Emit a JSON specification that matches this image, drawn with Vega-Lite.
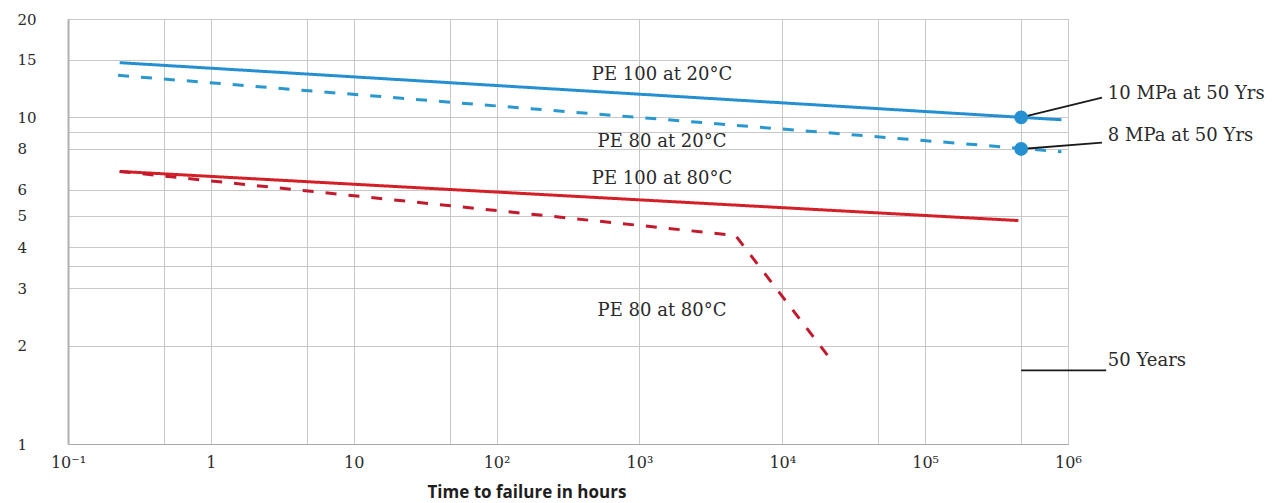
{
  "$schema": "https://vega.github.io/schema/vega-lite/v6.json",
  "width": 1000,
  "height": 425,
  "autosize": "none",
  "padding": {"left": 68, "top": 19, "right": 212, "bottom": 59},
  "background": "white",
  "config": {
    "view": {"stroke": "#a8a8a8", "strokeWidth": 1},
    "axis": {"gridColor": "#c8c8c8", "gridWidth": 1, "gridOpacity": 1, "ticks": false, "tickSize": 0, "labelColor": "#2a2a2a", "labelFont": "DejaVu Serif", "labelOverlap": false, "labelFlush": false}
  },
  "datasets": {
    "curves": [
      {"series": "PE 100 at 20°C", "hours": 0.23, "stress": 14.7},
      {"series": "PE 100 at 20°C", "hours": 900000, "stress": 9.83},
      {"series": "PE 80 at 20°C", "hours": 0.224, "stress": 13.45},
      {"series": "PE 80 at 20°C", "hours": 900000, "stress": 7.85},
      {"series": "PE 100 at 80°C", "hours": 0.23, "stress": 6.83},
      {"series": "PE 100 at 80°C", "hours": 450000, "stress": 4.83},
      {"series": "PE 80 at 80°C", "hours": 0.23, "stress": 6.83},
      {"series": "PE 80 at 80°C", "hours": 4700, "stress": 4.35},
      {"series": "PE 80 at 80°C", "hours": 22600, "stress": 1.78}
    ],
    "dots": [
      {"hours": 470000, "stress": 10},
      {"hours": 470000, "stress": 8}
    ],
    "leaders": [
      {"hours": 470000, "stress": 10, "hours2": 1730000, "stress2": 11.5},
      {"hours": 470000, "stress": 8, "hours2": 1730000, "stress2": 8.37},
      {"hours": 470000, "stress": 1.68, "hours2": 1850000, "stress2": 1.68}
    ],
    "curveLabels": [
      {"label": "PE 100 at 20°C", "hours": 1440, "stress": 13.5},
      {"label": "PE 80 at 20°C", "hours": 1440, "stress": 8.43},
      {"label": "PE 100 at 80°C", "hours": 1440, "stress": 6.49},
      {"label": "PE 80 at 80°C", "hours": 1440, "stress": 2.55}
    ],
    "notes": [
      {"label": "10 MPa at 50 Yrs", "hours": 1900000, "stress": 11.8},
      {"label": "8 MPa at 50 Yrs", "hours": 1900000, "stress": 8.77},
      {"label": "50 Years", "hours": 1900000, "stress": 1.79}
    ]
  },
  "layer": [
    {
      "data": {"name": "curves"},
      "mark": {"type": "line", "strokeWidth": 3},
      "encoding": {
        "x": {
          "field": "hours", "type": "quantitative",
          "scale": {"type": "log", "domain": [0.1, 1000000], "nice": false},
          "axis": {
            "title": "Time to failure in hours",
            "values": [0.1, 0.47, 1, 4.7, 10, 47, 100, 1000, 10000, 47000, 100000, 470000, 1000000],
            "labelExpr": "datum.value == 0.1 ? '10⁻¹' : datum.value == 1 ? '1' : datum.value == 10 ? '10' : datum.value == 100 ? '10²' : datum.value == 1000 ? '10³' : datum.value == 10000 ? '10⁴' : datum.value == 100000 ? '10⁵' : datum.value == 1000000 ? '10⁶' : ''",
            "labelFontSize": 16,
            "labelPadding": 10,
            "domain": true, "domainColor": "#a8a8a8",
            "titleFont": "Open Sans", "titleFontWeight": "bold", "titleFontSize": 17, "titleColor": "#1e1e1e",
            "titleX": 359, "titleY": 48, "titleAlign": "left", "titleBaseline": "middle", "titleAnchor": null
          }
        },
        "y": {
          "field": "stress", "type": "quantitative",
          "scale": {"type": "log", "domain": [1, 20], "nice": false},
          "axis": {
            "title": null,
            "values": [1, 2, 3, 3.5, 4, 5, 6, 8, 9, 10, 15, 20],
            "labelExpr": "datum.value == 3.5 || datum.value == 9 ? '' : datum.label",
            "labelAlign": "left",
            "labelPadding": 51,
            "labelFontSize": 15,
            "domain": true, "domainColor": "#b0b0b0", "domainWidth": 2
          }
        },
        "color": {
          "field": "series", "type": "nominal", "legend": null,
          "scale": {"domain": ["PE 100 at 20°C", "PE 80 at 20°C", "PE 100 at 80°C", "PE 80 at 80°C"], "range": ["#2490d2", "#2a98cf", "#d41f26", "#c21a2c"]}
        },
        "strokeDash": {
          "field": "series", "type": "nominal", "legend": null,
          "scale": {"domain": ["PE 100 at 20°C", "PE 80 at 20°C", "PE 100 at 80°C", "PE 80 at 80°C"], "range": [[1, 0], [11, 12], [1, 0], [11, 12]]}
        }
      }
    },
    {
      "data": {"name": "leaders"},
      "mark": {"type": "rule", "color": "#1a1a1a", "strokeWidth": 1.8},
      "encoding": {
        "x": {"field": "hours", "type": "quantitative"},
        "y": {"field": "stress", "type": "quantitative"},
        "x2": {"field": "hours2"},
        "y2": {"field": "stress2"}
      }
    },
    {
      "data": {"name": "dots"},
      "mark": {"type": "point", "filled": true, "size": 190, "color": "#2490d2", "opacity": 1},
      "encoding": {
        "x": {"field": "hours", "type": "quantitative"},
        "y": {"field": "stress", "type": "quantitative"}
      }
    },
    {
      "data": {"name": "curveLabels"},
      "mark": {"type": "text", "font": "DejaVu Serif", "fontSize": 18, "color": "#2a2a2a", "align": "center", "baseline": "middle"},
      "encoding": {
        "x": {"field": "hours", "type": "quantitative"},
        "y": {"field": "stress", "type": "quantitative"},
        "text": {"field": "label"}
      }
    },
    {
      "data": {"name": "notes"},
      "mark": {"type": "text", "font": "DejaVu Serif", "fontSize": 18, "color": "#2a2a2a", "align": "left", "baseline": "middle"},
      "encoding": {
        "x": {"field": "hours", "type": "quantitative"},
        "y": {"field": "stress", "type": "quantitative"},
        "text": {"field": "label"}
      }
    }
  ]
}
